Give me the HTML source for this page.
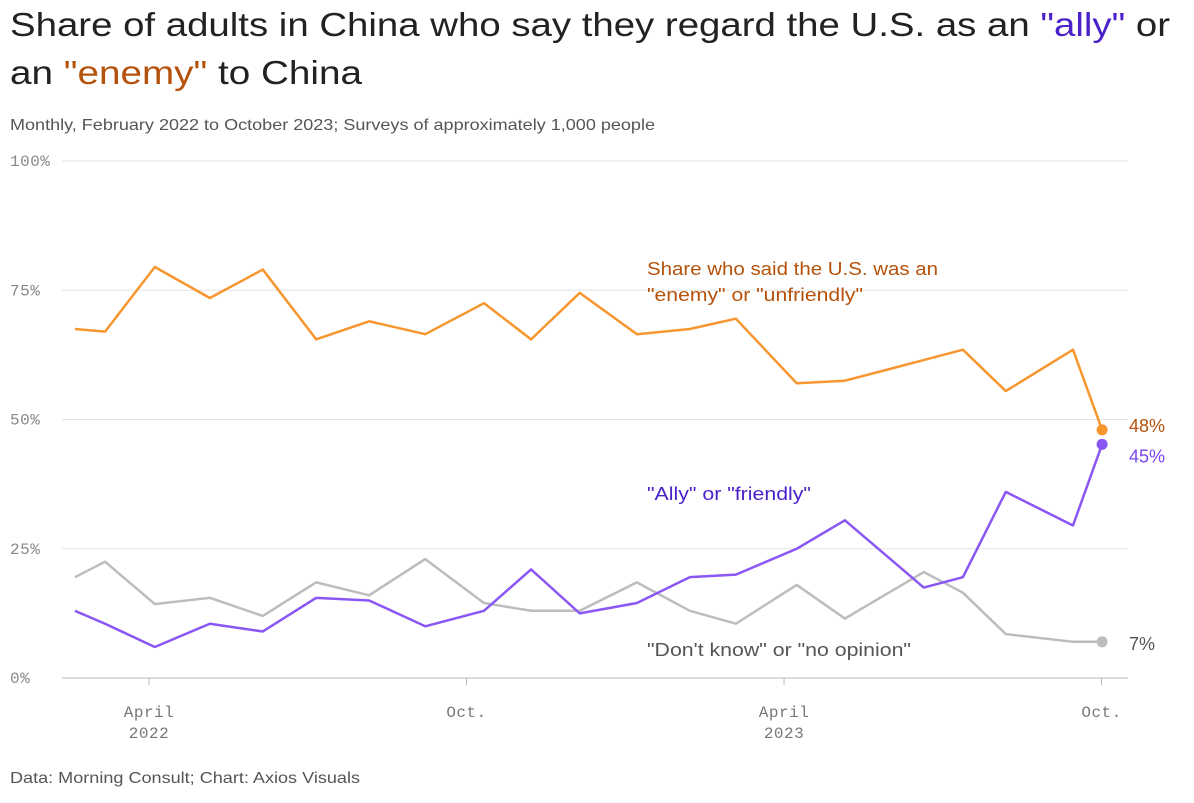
<!DOCTYPE html>
<html><head><meta charset="utf-8"><style>
body{margin:0;background:#fff;width:1194px;height:798px;overflow:hidden;font-family:"Liberation Sans",sans-serif}
</style></head><body>
<svg width="1194" height="798" id="svg">
<text x="10" y="36" font-size="33" fill="#222" textLength="1160" lengthAdjust="spacingAndGlyphs">Share of adults in China who say they regard the U.S. as an <tspan fill="#4b22c9">"ally"</tspan> or</text>
<text x="10" y="84" font-size="33" fill="#222" textLength="352" lengthAdjust="spacingAndGlyphs">an <tspan fill="#b5520b">"enemy"</tspan> to China</text>
<text x="10" y="130" font-size="16" fill="#555" textLength="645" lengthAdjust="spacingAndGlyphs">Monthly, February 2022 to October 2023; Surveys of approximately 1,000 people</text>
<text x="10" y="783" font-size="16" fill="#555" textLength="350" lengthAdjust="spacingAndGlyphs">Data: Morning Consult; Chart: Axios Visuals</text>
<g id="grid"></g><g id="lines"></g>
</svg>
<script>
const yTicks=[0,25,50,75,100];
const xTickPos=[0,6,12,18];
const xTickLabels=[["April","2022"],["Oct.",""],["April","2023"],["Oct.",""]];
const months=[-1.4,-0.83,0.11,1.15,2.15,3.16,4.16,5.22,6.33,7.22,8.14,9.22,10.22,11.09,12.24,13.15,14.64,15.38,16.19,17.46,18.01];
const enemy=[67.5,67,79.5,73.5,79,65.5,69,66.5,72.5,65.5,74.5,66.5,67.5,69.5,57,57.5,61.5,63.5,55.5,63.5,48];
const ally=[13,10.5,6,10.5,9,15.5,15,10,13,21,12.5,14.5,19.5,20,25,30.5,17.5,19.5,36,29.5,45.2];
const dunno=[19.5,22.5,14.3,15.5,12,18.5,16,23,14.5,13,13,18.5,13,10.5,18,11.5,20.5,16.5,8.5,7,7];
const NS="http://www.w3.org/2000/svg";
const x=m=>149+m*52.92, y=v=>678-v*5.17;
function mk(t,a,p){const e=document.createElementNS(NS,t);for(const k in a)e.setAttribute(k,a[k]);p.appendChild(e);return e;}
const g=document.getElementById('grid'),L=document.getElementById('lines');
yTicks.forEach(v=>{
 const l=mk('line',{x1:62,x2:1128,y1:y(v),y2:y(v),stroke:v?'#e4e4e4':'#bbb','stroke-width':1},g);
 
 
 const t=mk('text',{x:10,y:y(v)+5,'font-size':16,'letter-spacing':0.5,fill:'#888','font-family':'Liberation Mono, monospace'},g);t.textContent=v+'%';
 
 
});
xTickPos.forEach((m,i)=>{
 const tk=mk('line',{x1:x(m),x2:x(m),y1:678,y2:685,stroke:'#bbb'},g);
 
 
 xTickLabels[i].forEach((s,j)=>{const t=mk('text',{x:x(m),y:717+j*21,'font-size':16,'letter-spacing':0.5,fill:'#777','text-anchor':'middle','font-family':'Liberation Mono, monospace'},g);t.textContent=s;
 
 });
});
function series(vals,col,name,lab,labCol){
 const p=mk('polyline',{points:vals.map((v,i)=>x(months[i])+','+y(v)).join(' '),fill:'none',stroke:col,'stroke-width':2.5,'stroke-linejoin':'round'},L);
 
 
 const n=vals.length-1;
 const c=mk('circle',{cx:x(months[n]),cy:y(vals[n]),r:5.5,fill:col},L);
 
 
 const t=mk('text',{x:1129,y:y(vals[n])+6+(lab?lab:0),'font-size':18,fill:labCol},L);t.textContent=Math.round(vals[n])+'%';
 
 
}
series(dunno,'#bdbdbd','dont-know',2,'#555');
series(enemy,'#f7962f','enemy',-4,'#b5520b');
series(ally,'#8a57f5','ally',12,'#7a45f0');
function ann(txt,xx,yy,col,name,w){const t=mk('text',{x:xx,y:yy,'font-size':18,fill:col,textLength:w,lengthAdjust:'spacingAndGlyphs'},L);t.textContent=txt;
 
 }
ann('Share who said the U.S. was an',647,275,'#b5520b','enemy-annotation',291);
ann('"enemy" or "unfriendly"',647,301,'#b5520b','enemy-annotation-line2',216);
ann('"Ally" or "friendly"',647,500,'#4b22c9','ally-annotation',164);
ann('"Don\'t know" or "no opinion"',647,656,'#555','dont-know-annotation',264);
</script>
</body></html>
